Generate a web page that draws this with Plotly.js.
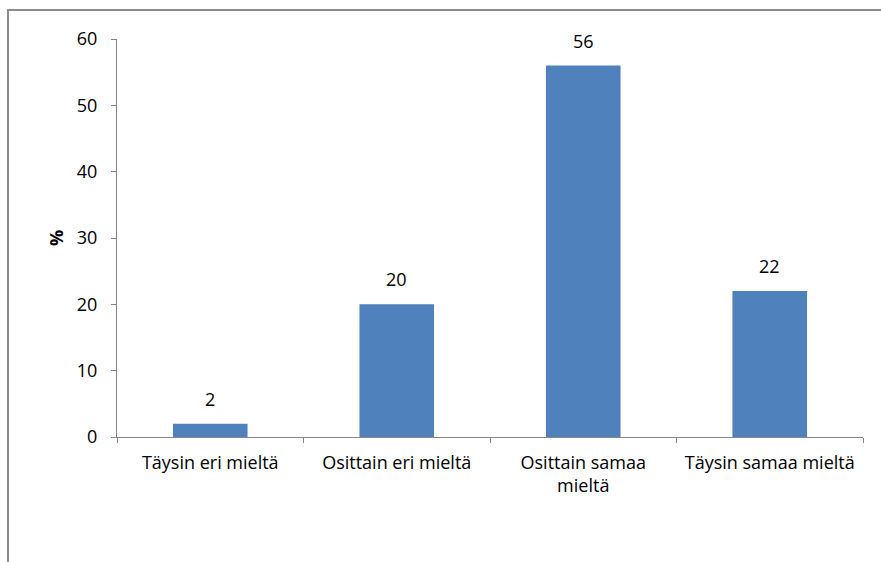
<!DOCTYPE html>
<html>
<head>
<meta charset="utf-8">
<script src="https://cdn.plot.ly/plotly-3.0.1.min.js"></script>
<style>
  html, body { margin: 0; padding: 0; background: #ffffff; }
  #wrap { position: relative; width: 881px; height: 562px; overflow: hidden; }
  #frame { position: absolute; left: 7px; top: 9px; width: 900px; height: 600px;
           border-top: 2px solid #8c8c8c; border-left: 2px solid #8c8c8c; pointer-events: none; }
  #chart { position: absolute; left: 0; top: 0; width: 881px; height: 562px; }
</style>
</head>
<body>
<div id="wrap">
  <div id="chart"></div>
  <div id="frame"></div>
</div>
<script>
const categories = ["Täysin eri mieltä", "Osittain eri mieltä", "Osittain samaa<br>mieltä", "Täysin samaa mieltä"];
const values = [2, 20, 56, 22];
const yTicks = [0, 10, 20, 30, 40, 50, 60];

const FONT = "Open Sans, Liberation Sans, sans-serif";
const FS = 18;

const trace = {
  type: "bar",
  x: categories,
  y: values,
  marker: { color: "#4f81bd" },
  hoverinfo: "none"
};

const annotations = categories.map((c, i) => ({
  x: c, y: values[i], xref: "x", yref: "y",
  text: String(values[i]), showarrow: false,
  yshift: 25, font: { family: FONT, size: FS, color: "#000" }
}));

const layout = {
  width: 881, height: 562,
  margin: { l: 117, r: 18, t: 39, b: 125 },
  paper_bgcolor: "rgba(0,0,0,0)",
  plot_bgcolor: "rgba(0,0,0,0)",
  bargap: 0.6,
  showlegend: false,
  font: { family: FONT, size: FS, color: "#000" },
  xaxis: {
    type: "category",
    showline: true, linecolor: "#868686", linewidth: 1,
    ticks: "outside", tickson: "boundaries", ticklen: 5, tickcolor: "#868686",
    ticklabelstandoff: 9,
    showgrid: false, zeroline: false,
    tickfont: { family: FONT, size: FS, color: "#000" }
  },
  yaxis: {
    range: [0, 60],
    tickvals: yTicks, ticktext: yTicks.map(String),
    showline: true, linecolor: "#868686", linewidth: 1,
    ticks: "outside", ticklen: 5, tickcolor: "#868686",
    ticklabelstandoff: 10,
    showgrid: false, zeroline: false,
    tickfont: { family: FONT, size: FS, color: "#000" },
    title: { text: "<b>%</b>", font: { family: FONT, size: FS, color: "#000" }, standoff: 8 }
  },
  annotations: annotations
};

Plotly.newPlot("chart", [trace], layout, { displayModeBar: false, staticPlot: true });
</script>
</body>
</html>
